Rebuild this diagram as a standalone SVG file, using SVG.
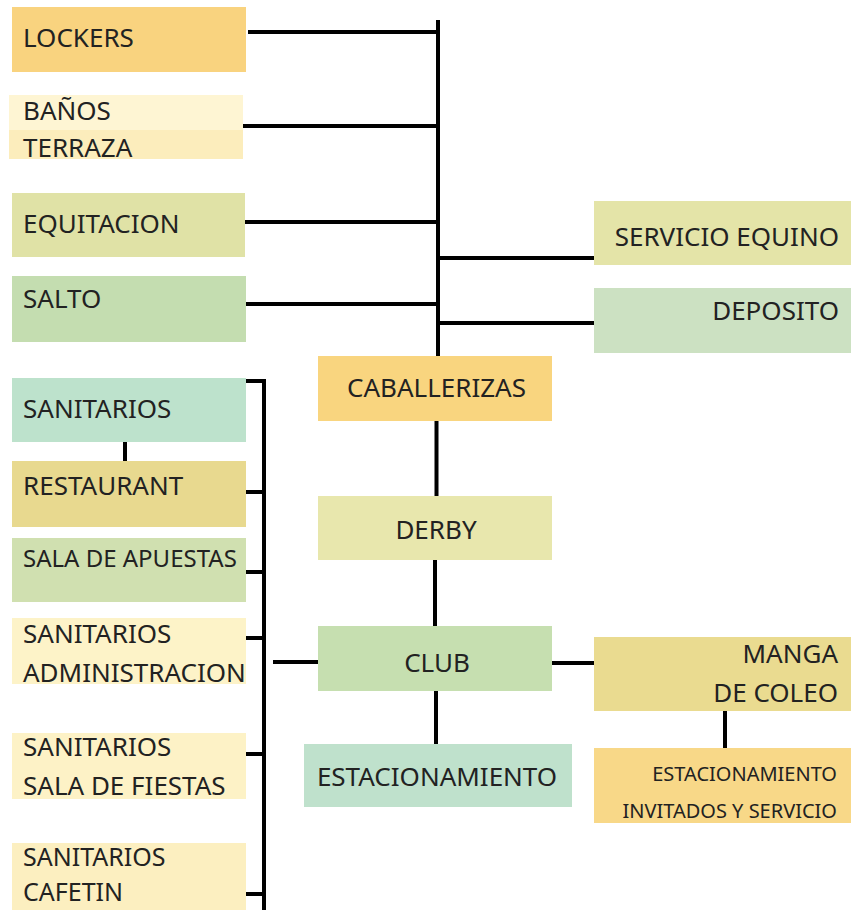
<svg xmlns="http://www.w3.org/2000/svg" width="857" height="910" viewBox="0 0 857 910">
<style>
text{font-family:"Noto Sans","Open Sans","Liberation Sans",sans-serif;font-size:26px;fill:#222}
.c{text-anchor:middle}
.e{text-anchor:end}
.s{font-size:20px}
.m{font-size:24px}
.k{font-size:25px}
.ln{stroke:#000;stroke-width:4;fill:none}
.g{stroke:#a9a488;stroke-width:3;fill:none}
</style>
<rect width="857" height="910" fill="#fff"/>
<g id="connectors">
<path class="ln" d="M438 20V357M248 32H438M243 126H438M245 222H438M246 304H438M438 258H594M438 323H594"/>
<path class="ln" d="M436.5 421V496M435 560V626M436 691V744M273 662H318"/>
<path class="ln" d="M552 663H594" stroke-width="6"/>
<path class="ln" d="M725 711V748" stroke-width="5"/>
<path class="ln" d="M125 442V461" stroke-width="5"/>
<path class="ln" d="M246 381H264V910M245 492H264M245 572H264M245 638H264M245 754H264M245 894H264"/>
<path class="g" d="M222 492H245M222 572H245M222 638H245M222 754H245M213 894H245"/>
</g>
<g id="lockers"><rect x="12" y="7" width="234" height="65" fill="#f9d37f"/><text x="23" y="47">LOCKERS</text></g>
<g id="banos"><rect x="9" y="95" width="234" height="35" fill="#fef5d3"/><rect x="9" y="130" width="234" height="29" fill="#fcedbc"/><text x="23" y="120">BAÑOS</text><text x="23" y="157">TERRAZA</text></g>
<g id="equitacion"><rect x="12" y="193" width="233" height="64" fill="#e0e2a6"/><text x="23" y="233">EQUITACION</text></g>
<g id="salto"><rect x="12" y="276" width="234" height="66" fill="#c4ddb0"/><text x="23" y="308">SALTO</text></g>
<g id="servicio"><rect x="594" y="201" width="257" height="64" fill="#e4e4a8"/><text class="e" x="839" y="246">SERVICIO EQUINO</text></g>
<g id="deposito"><rect x="594" y="288" width="257" height="65" fill="#cce1c2"/><text class="e" x="839" y="320">DEPOSITO</text></g>
<g id="caballerizas"><rect x="318" y="356" width="234" height="65" fill="#f9d57f"/><text class="c" x="436.5" y="397">CABALLERIZAS</text></g>
<g id="derby"><rect x="318" y="496" width="234" height="64" fill="#e8e7ad"/><text class="c" x="436" y="539">DERBY</text></g>
<g id="club"><rect x="318" y="626" width="234" height="65" fill="#c6dfb0"/><text class="c" x="437" y="672">CLUB</text></g>
<g id="estacionamiento"><rect x="304" y="744" width="268" height="63" fill="#bfe1cc"/><text class="c" x="437" y="786">ESTACIONAMIENTO</text></g>
<g id="manga"><rect x="594" y="637" width="257" height="74" fill="#eadb90"/><text class="e" x="838" y="663">MANGA</text><text class="e" x="838" y="702">DE COLEO</text></g>
<g id="invitados"><rect x="594" y="748" width="257" height="75" fill="#f8d888"/><text class="e s" x="837" y="781">ESTACIONAMIENTO</text><text class="e s" x="837" y="818">INVITADOS Y SERVICIO</text></g>
<g id="sanitarios"><rect x="12" y="378" width="234" height="64" fill="#bde2cc"/><text x="23" y="418">SANITARIOS</text></g>
<g id="restaurant"><rect x="12" y="461" width="234" height="66" fill="#e8d98f"/><text x="23" y="495">RESTAURANT</text></g>
<g id="apuestas"><rect x="12" y="538" width="234" height="64" fill="#d0e0b0"/><text class="m" x="23" y="567">SALA DE APUESTAS</text></g>
<g id="admin"><rect x="12" y="618" width="234" height="66" fill="#fdf3c8"/><text x="23" y="643">SANITARIOS</text><text x="23" y="682">ADMINISTRACION</text></g>
<g id="fiestas"><rect x="12" y="733" width="234" height="66" fill="#fdf2c6"/><text x="23" y="756">SANITARIOS</text><text x="23" y="795">SALA DE FIESTAS</text></g>
<g id="cafetin"><rect x="12" y="843" width="234" height="67" fill="#fcefc0"/><text class="k" x="23" y="866">SANITARIOS</text><text class="k" x="23" y="901">CAFETIN</text></g>
</svg>
